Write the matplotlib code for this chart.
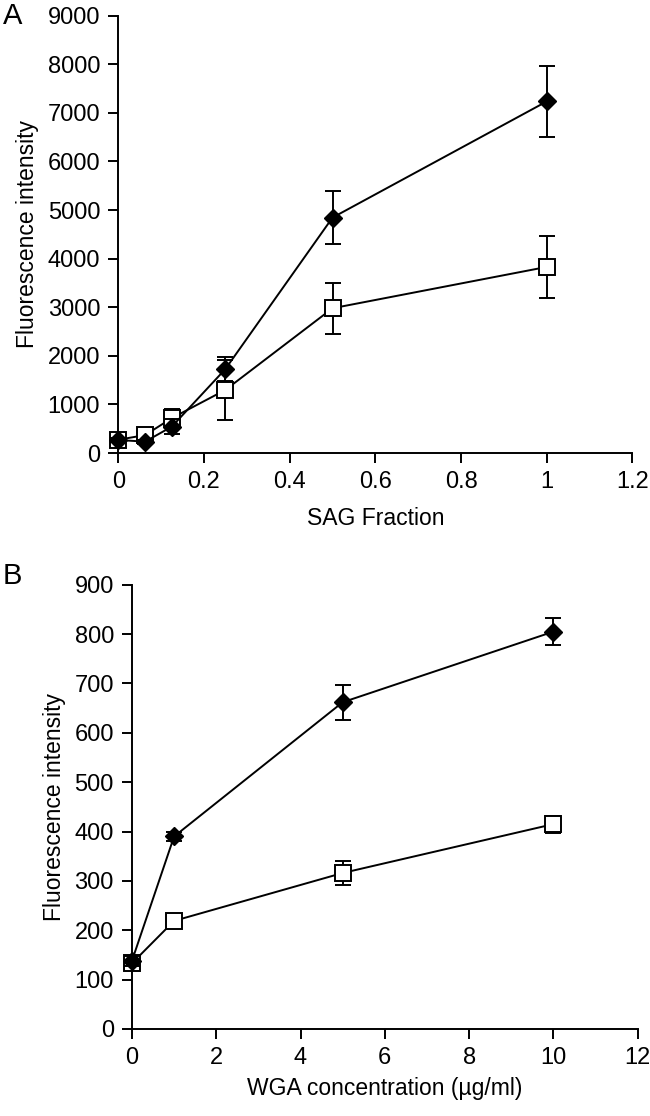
import matplotlib
matplotlib.use('Agg')
import matplotlib.pyplot as plt

plt.rcParams['font.family'] = ['Liberation Sans', 'DejaVu Sans']

# panel A: SAG fraction
sag_x = [0, 0.0625, 0.125, 0.25, 0.5, 1.0]
sag_filled = [270, 235, 545, 1730, 4845, 7235]
sag_filled_err = [50, 40, 150, 250, 550, 725]
sag_open = [275, 370, 720, 1300, 2980, 3830]
sag_open_err = [60, 60, 190, 620, 520, 630]

# panel B: WGA concentration
wga_x = [0, 1, 5, 10]
wga_filled = [138, 390, 662, 805]
wga_filled_err = [10, 10, 35, 27]
wga_open = [133, 219, 316, 415]
wga_open_err = [12, 9, 25, 17]

fig = plt.figure(figsize=(6.5, 11.16), dpi=100)
axA = fig.add_axes([0.182, 0.594, 0.791, 0.392])
axB = fig.add_axes([0.203, 0.078, 0.778, 0.398])

TICK_FS = 17
LAB_FS = 16.5


def draw(ax, x, yf, ef, yo, eo):
    ax.errorbar(x, yo, yerr=eo, color='black', lw=1.4, elinewidth=1.4,
                capsize=6, capthick=1.4, marker='s', ms=11.5,
                mfc='white', mec='black', mew=1.4, zorder=3, clip_on=False)
    ax.errorbar(x, yf, yerr=ef, color='black', lw=1.4, elinewidth=1.4,
                capsize=6, capthick=1.4, marker='D', ms=9.5,
                mfc='black', mec='black', zorder=4, clip_on=False)
    for s in ['top', 'right']:
        ax.spines[s].set_visible(False)
    for s in ['left', 'bottom']:
        ax.spines[s].set_linewidth(1.4)
    ax.tick_params(direction='out', length=7, width=1.4, labelsize=TICK_FS, pad=6)


draw(axA, sag_x, sag_filled, sag_filled_err, sag_open, sag_open_err)
axA.set_xlim(0, 1.2)
axA.set_ylim(0, 9000)
axA.set_xticks([0, 0.2, 0.4, 0.6, 0.8, 1, 1.2])
axA.set_xticklabels(['0', '0.2', '0.4', '0.6', '0.8', '1', '1.2'])
axA.set_yticks(range(0, 9001, 1000))
axA.set_xlabel('SAG Fraction', fontsize=LAB_FS, labelpad=10)
axA.set_ylabel('Fluorescence intensity', fontsize=LAB_FS, labelpad=6)

draw(axB, wga_x, wga_filled, wga_filled_err, wga_open, wga_open_err)
axB.set_xlim(0, 12)
axB.set_ylim(0, 900)
axB.set_xticks(range(0, 13, 2))
axB.set_yticks(range(0, 901, 100))
axB.set_xlabel('WGA concentration (µg/ml)', fontsize=LAB_FS, labelpad=6)
axB.set_ylabel('Fluorescence intensity', fontsize=LAB_FS, labelpad=6)

fig.text(0.004, 0.986, 'A', fontsize=21, va='center')
fig.text(0.004, 0.484, 'B', fontsize=21, va='center')

fig.savefig('out.png', dpi=100)
